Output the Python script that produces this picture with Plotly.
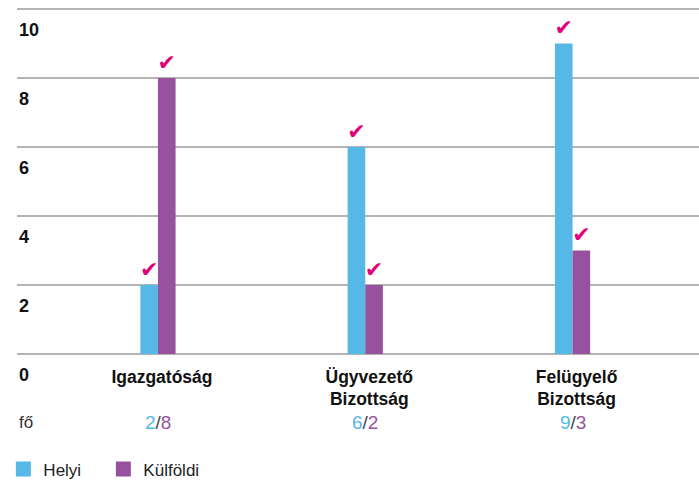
import plotly.graph_objects as go

categories = ["Igazgatóság", "Ügyvezető Bizottság", "Felügyelő Bizottság"]
category_lines = [["Igazgatóság"], ["Ügyvezető", "Bizottság"], ["Felügyelő", "Bizottság"]]
helyi = [2, 6, 9]
kulfoldi = [8, 2, 3]
y_ticks = [0, 2, 4, 6, 8, 10]
series_names = ["Helyi", "Külföldi"]
unit_label = "fő"
check_mark = "✔"

BLUE = "#55b8e7"
PURPLE = "#97529f"
MAGENTA = "#e2007a"
GRID = "#b4b4b4"
TEXT = "#111111"
FONT = "Liberation Sans, Arial, sans-serif"

fig = go.Figure()
for name, vals, color in [(series_names[0], helyi, BLUE), (series_names[1], kulfoldi, PURPLE)]:
    fig.add_bar(
        x=categories, y=vals, name=name, marker=dict(color=color, line=dict(width=0)),
        text=[check_mark] * len(vals), textposition="outside",
        textfont=dict(color=MAGENTA, size=22, family="DejaVu Sans"),
        constraintext="none", cliponaxis=False, hoverinfo="x+y+name", showlegend=False,
    )
# legend entries with larger square symbols
for name, color in [(series_names[0], BLUE), (series_names[1], PURPLE)]:
    fig.add_scatter(x=[None], y=[None], mode="markers", name=name,
                    marker=dict(symbol="square", size=15, color=color), showlegend=True)

ticktext = ["<br>".join("<b>%s</b>" % l for l in lines) for lines in category_lines]

for v in y_ticks:
    fig.add_annotation(x=0, xref="paper", xanchor="left", xshift=0, y=v, yref="y",
                       yanchor="top", yshift=-9, showarrow=False, text=f"<b>{v}</b>",
                       font=dict(size=18, color=TEXT, family=FONT))

for c, h, k in zip(categories, helyi, kulfoldi):
    fig.add_annotation(
        x=c, xref="x", y=0, yref="y", yshift=-68, yanchor="middle", showarrow=False,
        text=f'<span style="color:{BLUE}">{h}</span><span style="color:#444">/</span><span style="color:{PURPLE}">{k}</span>',
        font=dict(size=19, family=FONT),
    )
fig.add_annotation(x=0, xref="paper", xanchor="left", xshift=0, y=0, yref="y", yshift=-68,
                   yanchor="middle", showarrow=False, text=unit_label,
                   font=dict(size=17, family=FONT, color="#333"))

fig.update_layout(
    width=699, height=495,
    margin=dict(l=17, r=0, t=0, b=141, autoexpand=False),
    plot_bgcolor="white", paper_bgcolor="white",
    barmode="group", bargap=0.83, bargroupgap=0,
    font=dict(family=FONT, color=TEXT),
    showlegend=True,
    legend=dict(orientation="h", x=-0.02, xanchor="left", y=-0.275, yanchor="top",
                font=dict(size=17, color="#222", family=FONT), entrywidth=55,
                itemclick=False),
    xaxis=dict(type="category", range=[-0.68, 2.61], tickvals=categories, ticktext=ticktext,
               showgrid=False, showline=False, ticks="", zeroline=False, automargin=False,
               ticklabelstandoff=10, ticklabelshift=4,
               tickfont=dict(size=17.5, color=TEXT, family=FONT)),
    yaxis=dict(range=[0, 10.26], tickvals=y_ticks, showticklabels=False, automargin=False,
               showgrid=True, gridcolor=GRID, gridwidth=1.5, zeroline=True, zerolinecolor=GRID,
               zerolinewidth=2, showline=False, ticks=""),
)

fig.write_html("out.html", config={"displayModeBar": False},
               post_script="document.body.style.margin='0';document.body.style.overflow='hidden';")
